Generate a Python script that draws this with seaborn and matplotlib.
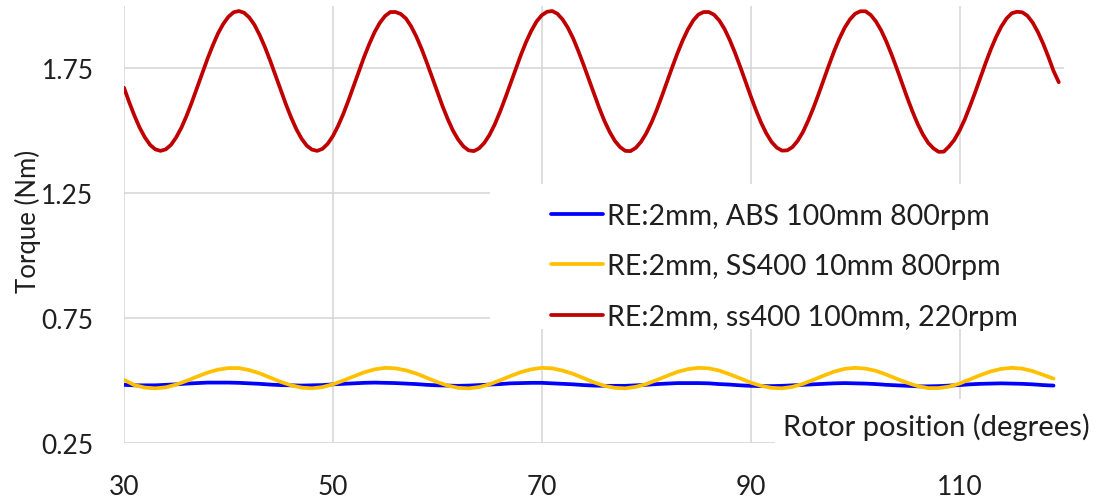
import pandas as pd
import seaborn as sns
import matplotlib.pyplot as plt
from matplotlib.patches import Rectangle

# rotor position (degrees); the 100mm curve is read every half degree
position = list(range(30, 120))
position_fine = [30 + 0.5 * i for i in range(180)]

torque_abs_100mm = [
    0.483, 0.481, 0.481, 0.481, 0.483, 0.485, 0.488, 0.490, 0.492, 0.492,
    0.492, 0.491, 0.489, 0.487, 0.484, 0.482, 0.481, 0.480, 0.481, 0.482,
    0.485, 0.487, 0.489, 0.491, 0.492, 0.491, 0.490, 0.488, 0.486, 0.483,
    0.481, 0.480, 0.479, 0.480, 0.482, 0.484, 0.486, 0.489, 0.490, 0.491,
    0.491, 0.489, 0.487, 0.485, 0.482, 0.480, 0.479, 0.479, 0.479, 0.481,
    0.483, 0.486, 0.488, 0.490, 0.490, 0.490, 0.489, 0.486, 0.484, 0.481,
    0.479, 0.478, 0.478, 0.479, 0.481, 0.483, 0.485, 0.487, 0.489, 0.490,
    0.489, 0.488, 0.486, 0.483, 0.481, 0.479, 0.477, 0.477, 0.478, 0.480,
    0.482, 0.485, 0.487, 0.488, 0.489, 0.488, 0.487, 0.485, 0.482, 0.480,
]

torque_ss400_10mm = [
    0.503, 0.482, 0.472, 0.469, 0.473, 0.484, 0.499, 0.516, 0.532, 0.544,
    0.550, 0.550, 0.542, 0.529, 0.512, 0.495, 0.481, 0.472, 0.469, 0.474,
    0.485, 0.500, 0.517, 0.533, 0.545, 0.551, 0.549, 0.541, 0.528, 0.511,
    0.494, 0.480, 0.471, 0.469, 0.474, 0.485, 0.501, 0.518, 0.534, 0.545,
    0.551, 0.549, 0.540, 0.527, 0.510, 0.493, 0.479, 0.471, 0.469, 0.475,
    0.486, 0.502, 0.519, 0.535, 0.546, 0.551, 0.549, 0.540, 0.525, 0.509,
    0.492, 0.479, 0.471, 0.469, 0.475, 0.487, 0.503, 0.520, 0.536, 0.547,
    0.551, 0.548, 0.539, 0.524, 0.507, 0.491, 0.478, 0.470, 0.470, 0.476,
    0.488, 0.505, 0.522, 0.537, 0.547, 0.551, 0.548, 0.538, 0.523, 0.508,
]

torque_ss400_100mm = [
    1.673, 1.615, 1.561, 1.513, 1.474, 1.444, 1.426, 1.420, 1.426, 1.444,
    1.474, 1.513, 1.561, 1.615, 1.673, 1.731, 1.789, 1.842, 1.890, 1.928,
    1.957, 1.975, 1.980, 1.973, 1.954, 1.924, 1.883, 1.835, 1.781, 1.723,
    1.664, 1.607, 1.554, 1.507, 1.469, 1.441, 1.425, 1.420, 1.428, 1.448,
    1.479, 1.520, 1.568, 1.623, 1.681, 1.740, 1.797, 1.849, 1.896, 1.933,
    1.960, 1.976, 1.976, 1.968, 1.950, 1.918, 1.877, 1.828, 1.773, 1.715,
    1.656, 1.599, 1.547, 1.501, 1.465, 1.438, 1.422, 1.419, 1.430, 1.452,
    1.484, 1.526, 1.576, 1.631, 1.689, 1.748, 1.804, 1.856, 1.901, 1.938,
    1.963, 1.977, 1.980, 1.969, 1.946, 1.913, 1.871, 1.820, 1.765, 1.707,
    1.648, 1.592, 1.540, 1.496, 1.460, 1.435, 1.420, 1.419, 1.432, 1.456,
    1.490, 1.533, 1.583, 1.639, 1.698, 1.756, 1.812, 1.863, 1.907, 1.942,
    1.966, 1.976, 1.976, 1.965, 1.942, 1.908, 1.864, 1.813, 1.757, 1.698,
    1.640, 1.584, 1.533, 1.490, 1.456, 1.433, 1.421, 1.422, 1.435, 1.460,
    1.495, 1.540, 1.591, 1.647, 1.706, 1.764, 1.820, 1.870, 1.913, 1.946,
    1.969, 1.979, 1.979, 1.964, 1.938, 1.902, 1.857, 1.805, 1.749, 1.690,
    1.632, 1.577, 1.527, 1.485, 1.452, 1.430, 1.416, 1.417, 1.438, 1.464,
    1.501, 1.546, 1.599, 1.655, 1.714, 1.772, 1.827, 1.876, 1.918, 1.950,
    1.971, 1.977, 1.975, 1.961, 1.934, 1.896, 1.850, 1.797, 1.740, 1.695,
]

series_names = [
    "RE:2mm, ABS 100mm 800rpm",
    "RE:2mm, SS400 10mm 800rpm",
    "RE:2mm, ss400 100mm, 220rpm",
]
series_colors = ["#0000FF", "#FFC000", "#C00000"]

x_ticks = [30, 50, 70, 90, 110]
y_ticks = [0.25, 0.75, 1.25, 1.75]

GRID = "#d4d4d4"
TEXT = "#1f1f1f"


def main():
    sns.set_theme(style="white")
    plt.rcParams["font.family"] = ["Lato", "DejaVu Sans"]

    parts = [
        (series_names[0], position, torque_abs_100mm),
        (series_names[1], position, torque_ss400_10mm),
        (series_names[2], position_fine, torque_ss400_100mm),
    ]
    df = pd.concat([pd.DataFrame({"position": xs, "torque": ys, "series": name}) for name, xs, ys in parts])

    fig = plt.figure(figsize=(11.02, 5.02), dpi=100)
    ax = fig.add_axes([0.1125, 0.1155, 0.853, 0.8705])

    sns.lineplot(data=df, x="position", y="torque", hue="series", hue_order=series_names,
                 palette=dict(zip(series_names, series_colors)), linewidth=2.7, ax=ax, zorder=3)

    ax.set_xlim(30, 120)
    ax.set_ylim(0.25, 2.0)
    ax.set_xticks(x_ticks)
    ax.set_yticks(y_ticks)
    ax.set_axisbelow(True)
    ax.grid(True, color=GRID, linewidth=1.1)
    for s in ax.spines.values():
        s.set_visible(False)
    ax.tick_params(axis="x", length=0, pad=22, labelsize=19, labelcolor=TEXT)
    ax.tick_params(axis="y", length=8, width=1.1, color=GRID, pad=14, labelsize=19, labelcolor=TEXT)

    ax.set_xlabel("")
    ax.set_ylabel("Torque (Nm)", fontsize=18.5, color=TEXT, va="center")
    ax.yaxis.set_label_coords(-0.102, 0.51)

    # white blocks behind legend and the axis title, like the original
    ax.add_patch(Rectangle((0.389, 0.261), 0.62, 0.332, transform=ax.transAxes,
                           facecolor="white", edgecolor="none", zorder=1))
    ax.add_patch(Rectangle((0.6926, -0.04), 0.4, 0.141, transform=ax.transAxes,
                           facecolor="white", edgecolor="none", zorder=1, clip_on=False))
    ax.text(0.864, 0.039, "Rotor position (degrees)", transform=ax.transAxes,
            ha="center", va="center", fontsize=21, color=TEXT, zorder=4)

    handles, labels = ax.get_legend_handles_labels()
    ax.legend(handles, labels, loc="upper left", bbox_to_anchor=(0.454, 0.55),
              frameon=False, fontsize=20.5, handlelength=1.82, handletextpad=0.15,
              labelspacing=0.87, borderpad=0, borderaxespad=0, labelcolor=TEXT)

    fig.savefig("out.png", dpi=100)
    plt.close(fig)


if __name__ == "__main__":
    main()
